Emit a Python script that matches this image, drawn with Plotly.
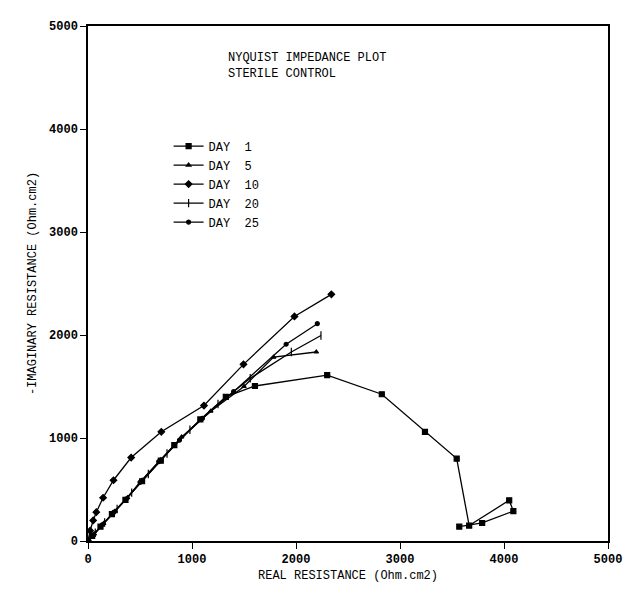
import plotly.graph_objects as go

# ---- data (Real, -Imaginary) in Ohm.cm2 ----
day1_x = [0, 40, 120, 230, 360, 520, 700, 830, 1080, 1325, 1605, 2300, 2825, 3240, 3545, 3665, 4050, 4090, 3790, 3570]
day1_y = [0, 50, 140, 260, 400, 580, 780, 930, 1180, 1400, 1505, 1610, 1425, 1060, 800, 150, 395, 290, 175, 140]

day5_x = [0, 60, 150, 260, 380, 520, 700, 900, 1180, 1500, 1785, 2195]
day5_y = [0, 70, 170, 290, 420, 590, 790, 1010, 1260, 1500, 1785, 1835]

day10_x = [0, 20, 50, 80, 145, 245, 415, 705, 1115, 1495, 1985, 2340]
day10_y = [0, 100, 200, 280, 420, 590, 810, 1060, 1315, 1715, 2180, 2395]

day20_x = [0, 70, 160, 280, 420, 580, 760, 980, 1250, 1560, 1955, 2240]
day20_y = [0, 80, 180, 310, 470, 650, 850, 1080, 1330, 1580, 1835, 1995]

day25_x = [0, 50, 140, 250, 370, 500, 680, 880, 1100, 1400, 1905, 2205]
day25_y = [0, 60, 160, 280, 410, 570, 770, 980, 1190, 1450, 1910, 2110]

series_names = ["DAY  1", "DAY  5", "DAY  10", "DAY  20", "DAY  25"]
series_x = [day1_x, day5_x, day10_x, day20_x, day25_x]
series_y = [day1_y, day5_y, day10_y, day20_y, day25_y]
symbols = ["square", "triangle-up", "diamond", "line-ns-open", "circle"]
sizes = [5, 4, 5, 6, 4]

tick_vals = [0, 1000, 2000, 3000, 4000, 5000]
tick_text = ["0", "1000", "2000", "3000", "4000", "5000"]

title_lines = ["NYQUIST IMPEDANCE PLOT", "STERILE CONTROL"]
x_title = "REAL RESISTANCE (Ohm.cm2)"
y_title = "-IMAGINARY RESISTANCE (Ohm.cm2)"

FONT = "Liberation Mono"

fig = go.Figure()
for name, xs, ys, sym, sz in zip(series_names, series_x, series_y, symbols, sizes):
    fig.add_trace(go.Scatter(
        x=xs, y=ys, name=name, mode="lines+markers",
        line=dict(color="black", width=1.3),
        marker=dict(symbol=sym, size=sz, color="black",
                    line=dict(color="black", width=1.2)),
    ))

axis_common = dict(
    range=[0, 5000], tickvals=tick_vals, ticktext=tick_text,
    ticks="outside", ticklen=6, tickwidth=1.2, tickcolor="black",
    showline=True, linecolor="black", linewidth=1.5, mirror=True,
    showgrid=False, zeroline=False,
    tickfont=dict(family=FONT, size=12, color="black", weight="bold"),
)

fig.update_layout(
    width=640, height=600,
    margin=dict(l=80, r=40, t=18, b=67),
    paper_bgcolor="white", plot_bgcolor="white",
    xaxis=dict(title=dict(text=x_title, font=dict(family=FONT, size=12, color="black"), standoff=4), **axis_common),
    yaxis=dict(title=dict(text=y_title, font=dict(family=FONT, size=12, color="black"), standoff=10), **axis_common),
    legend=dict(x=0.155, y=0.795, xanchor="left", yanchor="top",
                bgcolor="rgba(0,0,0,0)", font=dict(family=FONT, size=12, color="black"),
                itemwidth=30, tracegroupgap=0),
    annotations=[dict(
        text="<br>".join(title_lines), xref="paper", yref="paper",
        x=0.265, y=0.955, xanchor="left", yanchor="top", align="left",
        showarrow=False, font=dict(family=FONT, size=12, color="black"),
    )],
)

fig.write_html("out.html")
